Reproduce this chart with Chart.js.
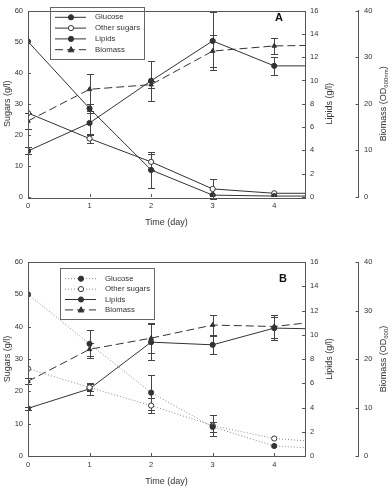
<!DOCTYPE html>
<html>
<head>
<meta charset="utf-8">
<script src="https://cdn.jsdelivr.net/npm/chart.js@4/dist/chart.umd.min.js"></script>
<style>
  html, body { margin: 0; padding: 0; background: #fff; }
  canvas { display: block; }
</style>
</head>
<body>
<canvas id="chartA" width="392" height="244"></canvas>
<canvas id="chartB" width="392" height="244"></canvas>
<script>
// time points (last one is the line running off to the right edge, no marker)
let days = [0, 1, 2, 3, 4, 4.5];
let seriesNames = ["Glucose", "Other sugars", "Lipids", "Biomass"];

// panel A
let glucoseA = [50, 28.5, 8.7, 0.6, 0.3, 0.3];
let glucoseAErr = [0, 1.5, 5.7, 0, 0, 0];
let otherA = [27, 18.8, 11.3, 2.6, 1.2, 1.2];
let otherAErr = [0, 1.5, 2.5, 3.2, 0, 0];
let lipidsA = [3.95, 6.35, 9.97, 13.39, 11.25, 11.25];
let lipidsAErr = [0.3, 1.0, 1.7, 2.48, 0.77, 0];
let biomassA = [16.3, 23.1, 24.1, 31.3, 32.4, 32.5];
let biomassAErr = [1.7, 3.2, 0.7, 3.5, 1.7, 0];

// panel B
let glucoseB = [50, 34.7, 19.6, 9.0, 3.1, 2.6];
let glucoseBErr = [0, 4.4, 5.3, 1.5, 0, 0];
let otherB = [27, 21.2, 15.6, 9.4, 5.4, 4.7];
let otherBErr = [0, 1.2, 2.2, 3.2, 0, 0];
let lipidsB = [3.93, 5.54, 9.39, 9.17, 10.55, 10.5];
let lipidsBErr = [0.15, 0.5, 1.5, 0.75, 0.95, 0];
let biomassB = [15.4, 22.0, 24.3, 27.0, 26.7, 27.4];
let biomassBErr = [0.6, 1.4, 3.1, 2.1, 2.4, 0];

const FONT = "'Liberation Sans', Arial, sans-serif";
const INK = "#333";
const R = 2.6;
const radii = [R, R, R, R, R, 0];

function pts(vals) {
    return days.map((d, i) => ({ x: d, y: vals[i] }));
}

function series(label, vals, errs, axis, style) {
    return Object.assign({
        label: label,
        data: pts(vals),
        errors: errs,
        yAxisID: axis,
        borderColor: INK,
        borderWidth: 1,
        pointRadius: radii,
        pointHoverRadius: radii,
        pointBorderWidth: 1,
        pointBorderColor: INK,
        pointBackgroundColor: INK,
        pointStyle: "circle",
        tension: 0,
        fill: false
    }, style);
}

// error bars, drawn under the markers
const errorBars = {
    id: "errorBars",
    beforeDatasetsDraw(chart) {
        const ctx = chart.ctx;
        const xs = chart.scales.x;
        chart.data.datasets.forEach(ds => {
            if (!ds.errors) return;
            const ys = chart.scales[ds.yAxisID];
            ctx.save();
            ctx.strokeStyle = "#444";
            ctx.lineWidth = 1;
            ds.data.forEach((p, i) => {
                const e = ds.errors[i];
                if (!e) return;
                const px = Math.round(xs.getPixelForValue(p.x)) + 0.5;
                const top = Math.round(ys.getPixelForValue(p.y + e)) + 0.5;
                const bot = Math.round(ys.getPixelForValue(p.y - e)) + 0.5;
                ctx.beginPath();
                ctx.moveTo(px, top); ctx.lineTo(px, bot);
                ctx.moveTo(px - 3.5, top); ctx.lineTo(px + 3.5, top);
                ctx.moveTo(px - 3.5, bot); ctx.lineTo(px + 3.5, bot);
                ctx.stroke();
            });
            ctx.restore();
        });
    }
};

function marker(ctx, ds, x, y) {
    ctx.lineWidth = 1;
    ctx.strokeStyle = ds.pointBorderColor;
    ctx.fillStyle = ds.pointBackgroundColor;
    ctx.beginPath();
    if (ds.pointStyle === "triangle") {
        ctx.moveTo(x, y - R * 1.2);
        ctx.lineTo(x + R * 1.1, y + R * 0.8);
        ctx.lineTo(x - R * 1.1, y + R * 0.8);
        ctx.closePath();
    } else {
        ctx.arc(x, y, R, 0, Math.PI * 2);
    }
    ctx.fill();
    ctx.stroke();
}

function vTitle(ctx, x, y, parts) {
    ctx.save();
    ctx.translate(x, y);
    ctx.rotate(-Math.PI / 2);
    ctx.fillStyle = INK;
    ctx.textBaseline = "middle";
    let total = 0;
    parts.forEach(p => { ctx.font = p.size + "px " + FONT; total += ctx.measureText(p.t).width; });
    let cx = -total / 2;
    parts.forEach(p => {
        ctx.font = p.size + "px " + FONT;
        ctx.textAlign = "left";
        ctx.fillText(p.t, cx, p.dy || 0);
        cx += ctx.measureText(p.t).width;
    });
    ctx.restore();
}

// frame, inward ticks, right-hand titles, legend and panel letter
const decor = {
    id: "decor",
    afterDraw(chart, args, o) {
        const ctx = chart.ctx;
        const a = chart.chartArea;
        ctx.save();
        ctx.strokeStyle = "#555";
        ctx.lineWidth = 1;
        ctx.strokeRect(Math.round(a.left) + 0.5, Math.round(a.top) + 0.5,
            Math.round(a.right - a.left), Math.round(a.bottom - a.top));

        // tick marks pointing into the plot
        ctx.beginPath();
        const s = chart.scales;
        s.x.ticks.forEach(t => {
            const px = Math.round(s.x.getPixelForValue(t.value)) + 0.5;
            ctx.moveTo(px, a.bottom); ctx.lineTo(px, a.bottom - 3);
        });
        s.y.ticks.forEach(t => {
            const py = Math.round(s.y.getPixelForValue(t.value)) + 0.5;
            ctx.moveTo(a.left, py); ctx.lineTo(a.left + 3, py);
        });
        s.y1.ticks.forEach(t => {
            const py = Math.round(s.y1.getPixelForValue(t.value)) + 0.5;
            ctx.moveTo(a.right, py); ctx.lineTo(a.right - 3, py);
        });
        const bx = Math.round(s.y2.left) + 0.5;
        s.y2.ticks.forEach(t => {
            const py = Math.round(s.y2.getPixelForValue(t.value)) + 0.5;
            ctx.moveTo(bx, py); ctx.lineTo(bx - 3, py);
        });
        ctx.stroke();

        const midY = (a.top + a.bottom) / 2;
        vTitle(ctx, 330, midY, [{ t: "Lipids (g/l)", size: 9 }]);
        vTitle(ctx, 384, midY, [
            { t: "Biomass (OD", size: 9 },
            { t: o.sub, size: 6, dy: 2.5 },
            { t: ")", size: 9 }
        ]);

        // legend
        const L = o.legend;
        ctx.strokeStyle = "#666";
        ctx.strokeRect(L.x + 0.5, L.y + 0.5, L.w, L.h);
        chart.data.datasets.forEach((ds, i) => {
            const cy = L.y + L.first + i * L.row;
            ctx.save();
            ctx.strokeStyle = ds.borderColor;
            ctx.lineWidth = 1;
            ctx.setLineDash(ds.borderDash || []);
            ctx.beginPath();
            ctx.moveTo(L.x + 5, cy); ctx.lineTo(L.x + 36, cy);
            ctx.stroke();
            ctx.setLineDash([]);
            marker(ctx, ds, L.x + 21, cy);
            ctx.restore();
            ctx.fillStyle = INK;
            ctx.font = "7.8px " + FONT;
            ctx.textAlign = "left";
            ctx.textBaseline = "middle";
            ctx.fillText(ds.label, L.x + 45, cy);
        });

        ctx.fillStyle = "#111";
        ctx.font = "bold 11px " + FONT;
        ctx.textAlign = "center";
        ctx.textBaseline = "middle";
        ctx.fillText(o.letter, o.lx, o.ly);
        ctx.restore();
    }
};

function makeChart(id, datasets, padTop, padBottom, deco) {
    const tickFont = { family: FONT, size: 7.5 };
    return new Chart(document.getElementById(id), {
        type: "line",
        data: { datasets: datasets },
        options: {
            responsive: false,
            animation: false,
            events: [],
            layout: { padding: { top: padTop, bottom: padBottom, left: 0, right: 0 } },
            plugins: { legend: { display: false }, tooltip: { enabled: false }, decor: deco },
            scales: {
                x: {
                    type: "linear", min: 0, max: 4.5,
                    ticks: { stepSize: 1, color: INK, font: tickFont, padding: 4 },
                    afterBuildTicks: sc => { sc.ticks = sc.ticks.filter(t => Number.isInteger(t.value)); },
                    grid: { display: false, drawTicks: false },
                    border: { display: false },
                    title: { display: true, text: "Time (day)", color: INK, font: { family: FONT, size: 9 }, padding: 0 },
                    afterFit: sc => { sc.height = 31; }
                },
                y: {
                    position: "left", min: 0, max: 60,
                    ticks: { stepSize: 10, color: INK, font: tickFont, padding: 5 },
                    grid: { display: false, drawTicks: false },
                    border: { display: false },
                    title: { display: true, text: "Sugars (g/l)", color: INK, font: { family: FONT, size: 9 }, padding: { top: 2 } },
                    afterFit: sc => { sc.width = 28; }
                },
                y1: {
                    position: "right", weight: 0, min: 0, max: 16,
                    ticks: { stepSize: 2, color: INK, font: tickFont, padding: 5 },
                    grid: { display: false, drawTicks: false },
                    border: { display: false },
                    afterFit: sc => { sc.width = 53; }
                },
                y2: {
                    position: "right", weight: 1, min: 0, max: 40,
                    ticks: { stepSize: 10, color: INK, font: tickFont, padding: 6 },
                    grid: { display: false, drawTicks: false },
                    border: { display: true, color: "#555", width: 1 },
                    afterFit: sc => { sc.width = 34; }
                }
            }
        },
        plugins: [errorBars, decor]
    });
}

makeChart("chartA", [
    series(seriesNames[0], glucoseA, glucoseAErr, "y", {}),
    series(seriesNames[1], otherA, otherAErr, "y", { pointBackgroundColor: "#fff" }),
    series(seriesNames[2], lipidsA, lipidsAErr, "y1", {}),
    series(seriesNames[3], biomassA, biomassAErr, "y2", { pointStyle: "triangle", borderDash: [8, 4] })
], 4, 16, {
    sub: "600nm", letter: "A", lx: 279, ly: 18,
    legend: { x: 50, y: 7, w: 94, h: 52, first: 10.3, row: 10.8 }
});

const dotted = { borderColor: "#8a8a8a", borderDash: [1, 2] };
makeChart("chartB", [
    series(seriesNames[0], glucoseB, glucoseBErr, "y", dotted),
    series(seriesNames[1], otherB, otherBErr, "y", Object.assign({ pointBackgroundColor: "#fff" }, dotted)),
    series(seriesNames[2], lipidsB, lipidsBErr, "y1", {}),
    series(seriesNames[3], biomassB, biomassBErr, "y2", { pointStyle: "triangle", borderDash: [8, 4] })
], 18, 1, {
    sub: "600", letter: "B", lx: 283, ly: 35,
    legend: { x: 60, y: 24, w: 94, h: 51, first: 10.7, row: 10.4 }
});
</script>
</body>
</html>
